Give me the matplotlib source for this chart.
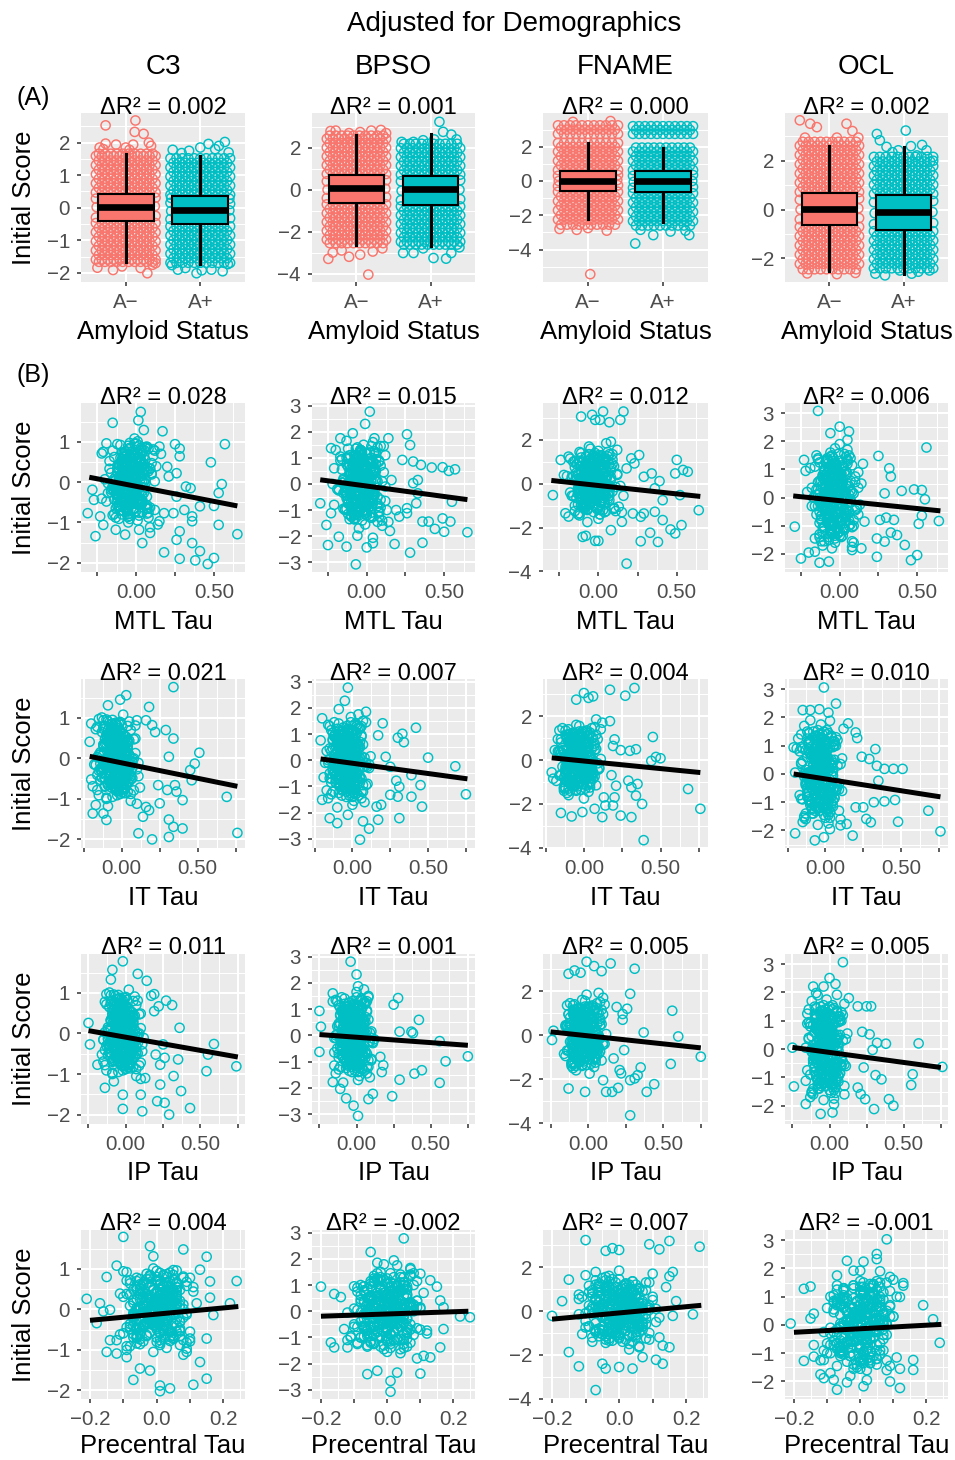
import numpy as np
import matplotlib
matplotlib.use("Agg")
import matplotlib.pyplot as plt
from matplotlib.ticker import FixedLocator, MultipleLocator, NullLocator

plt.rcParams['font.family'] = ['Liberation Sans', 'DejaVu Sans']

# ============================ DATA ============================
tests = ["C3", "BPSO", "FNAME", "OCL"]
tau_labels = ["MTL Tau", "IT Tau", "IP Tau", "Precentral Tau"]
amyloid_levels = ["A\u2212", "A+"]

dr2_amyloid = ["0.002", "0.001", "0.000", "0.002"]
dr2_mtl = ["0.028", "0.015", "0.012", "0.006"]
dr2_it = ["0.021", "0.007", "0.004", "0.010"]
dr2_ip = ["0.011", "0.001", "0.005", "0.005"]
dr2_pc = ["0.004", "-0.002", "0.007", "-0.001"]

# box statistics per amyloid group: [whisker low, q1, median, q3, whisker high]
box_c3 = [[-1.65, -0.42, 0.01, 0.42, 1.66], [-1.73, -0.50, -0.08, 0.35, 1.58]]
box_bpso = [[-2.62, -0.63, 0.06, 0.69, 2.60], [-2.68, -0.74, 0.01, 0.66, 2.64]]
box_fname = [[-2.24, -0.57, 0.02, 0.58, 2.20], [-2.38, -0.66, 0.00, 0.58, 1.95]]
box_ocl = [[-2.51, -0.65, 0.01, 0.66, 2.62], [-2.66, -0.83, -0.11, 0.58, 2.58]]

# jittered individual scores. Dense bands are listed as score levels, each
# holding one row of jittered subjects (horizontal offsets JIT_A / JIT_B).
JIT_A = [-0.40, -0.32, -0.24, -0.16, -0.08, 0.00, 0.08, 0.16, 0.24, 0.32, 0.40]
JIT_B = [-0.36, -0.28, -0.20, -0.12, -0.04, 0.04, 0.12, 0.20, 0.28, 0.36]

c3_neg_lv_a = [0.47, 0.75, 1.03, 1.31, 1.59, -0.47, -0.75, -1.03, -1.31, -1.59]
c3_neg_lv_b = [0.61, 0.89, 1.17, 1.45, 1.66, -0.61, -0.89, -1.17, -1.45, -1.66]
c3_neg_dx = [-0.40,0.40,-0.39,0.39,-0.40,0.40, -0.27,0.13,0.12,0.24,0.31,-0.27,-0.13,0.10,0.34,-0.35,
 0.00,-0.30,0.05, -0.38,-0.17,0.29,0.36,-0.05,0.20,0.40]
c3_neg_y = [-0.30,-0.25,0.02,0.05,0.28,0.31, 2.53,2.68,2.33,2.27,2.00,1.97,1.94,1.94,1.90,1.85,
 1.85,1.80,1.78, -1.84,-1.91,-2.01,-1.75,-1.80,-1.85,-1.70]

c3_pos_lv_a = [0.40, 0.68, 0.96, 1.24, 1.52, -0.57, -0.85, -1.13, -1.41, -1.69]
c3_pos_lv_b = [0.54, 0.82, 1.10, 1.38, -0.71, -0.99, -1.27, -1.55]
c3_pos_dx = [-0.40,0.40,-0.39,0.39,-0.40,0.40,-0.39,0.39, 0.33,-0.37,0.11,0.00,0.25,-0.15,0.20,-0.25,
 0.38, -0.05,0.02,-0.38,0.37,-0.20,0.15,0.30,-0.30]
c3_pos_y = [-0.35,-0.32,-0.10,-0.08,0.15,0.12,0.30,0.28, 2.02,1.78,1.96,1.85,1.90,1.75,1.80,1.68,
 1.70, -2.01,-1.92,-1.76,-1.73,-1.85,-1.90,-1.95,-1.90]

bpso_neg_lv_a = [0.75, 1.17, 1.59, 2.01, 2.43, -0.70, -1.12, -1.54, -1.96, -2.38]
bpso_neg_lv_b = [0.96, 1.38, 1.80, 2.22, 2.58, -0.91, -1.33, -1.75, -2.17, -2.55]
bpso_neg_dx = [-0.40,0.40,-0.39,0.39,-0.40,0.40, -0.35,-0.28,0.05,0.20,0.33,0.40,-0.10,
 -0.38,-0.32,-0.10,0.05,0.22,0.35,-0.20,0.16]
bpso_neg_y = [-0.40,-0.35,0.00,0.05,0.40,0.45, 2.80,2.82,2.75,2.82,2.85,2.70,2.70,
 -3.30,-3.00,-3.20,-3.10,-2.95,-2.80,-2.90,-4.05]

bpso_pos_lv_a = [0.72, 1.14, 1.56, 1.98, -0.80, -1.22, -1.64, -2.06, -2.48]
bpso_pos_lv_b = [0.93, 1.35, 1.77, 2.19, -1.01, -1.43, -1.85, -2.27, -2.62]
bpso_pos_dx = [-0.40,0.40,-0.39,0.39,-0.40,0.40, 0.12,0.17,0.28,-0.39,-0.23,-0.10,0.05,0.35,
 -0.37,-0.23,0.04,0.21,0.28,0.39,-0.10]
bpso_pos_y = [-0.50,-0.45,-0.05,0.00,0.40,0.45, 3.24,2.76,2.63,2.28,2.28,2.36,2.40,2.40,
 -3.02,-3.02,-3.26,-3.29,-3.02,-2.75,-2.80]

fname_neg_lv_a = [0.64, 1.18, 1.72, 2.22, 2.75, 3.25, -0.63, -1.17, -1.71, -2.25]
fname_neg_lv_b = [0.91, 1.45, 1.99, 3.00, -0.90, -1.44, -1.98, -2.55]
fname_neg_dx = [-0.40,0.40,-0.39,0.39,-0.40,0.40, 0.03,0.30,-0.20,-0.38,0.25,0.00,-0.15]
fname_neg_y = [-0.30,-0.25,0.00,0.05,0.30,0.35, -5.44,3.50,3.45,-2.80,-2.90,-2.75,-2.85]

fname_pos_lv_a = [0.64, 1.18, 1.72, 2.75, 3.20, -0.72, -1.26, -1.80, -2.34]
fname_pos_lv_b = [0.91, 1.45, 1.95, 2.98, -0.99, -1.53, -2.07, -2.60]
fname_pos_dx = [-0.40,0.40,-0.39,0.39,-0.40,0.40, -0.37,-0.13,0.35,0.30,-0.30,0.10]
fname_pos_y = [-0.40,-0.35,-0.05,0.00,0.30,0.35, -3.65,-3.16,-3.16,-2.90,-2.85,-2.95]

ocl_neg_lv_a = [0.72, 1.10, 1.48, 1.86, 2.24, 2.62, -0.71, -1.09, -1.47, -1.85, -2.23]
ocl_neg_lv_b = [0.91, 1.29, 1.67, 2.05, 2.43, 2.78, -0.90, -1.28, -1.66, -2.04, -2.45]
ocl_neg_dx = [-0.40,0.40,-0.39,0.39,-0.40,0.40, -0.40,-0.26,-0.17,0.23,0.31,0.39,-0.33,0.10,
 -0.30,0.10,0.35]
ocl_neg_y = [-0.40,-0.35,0.00,0.05,0.40,0.45, 3.66,3.52,3.38,3.52,3.22,2.95,2.95,2.95,
 -2.62,-2.65,-2.60]

ocl_pos_lv_a = [0.64, 1.02, 1.40, 1.78, 2.16, -0.89, -1.27, -1.65, -2.03, -2.41]
ocl_pos_lv_b = [0.83, 1.21, 1.59, 1.97, -1.08, -1.46, -1.84, -2.22]
ocl_pos_dx = [-0.40,0.40,-0.39,0.39,-0.40,0.40, 0.03,-0.36,-0.32,-0.23,-0.07,0.31,0.40,0.18,0.10,
 -0.15,0.25, -0.38,-0.25,0.11,0.20,-0.05,0.35]
ocl_pos_y = [-0.60,-0.55,-0.15,-0.10,0.30,0.35, 3.24,3.10,2.84,2.57,2.43,2.43,2.00,2.22,2.60,
 2.35,2.65, -2.63,-2.70,-2.63,-2.55,-2.50,-2.50]

# ---- tau scatter data: central mass of subjects (tau by region, score by test) ----
mtl_core_x = [-0.08,0.03,-0.15,-0.02,0.09,-0.11,-0.05,0.12,-0.18,0.00,-0.07,0.05,-0.13,-0.03,0.14,-0.09,
 0.01,-0.20,0.07,-0.06,-0.12,0.04,-0.01,-0.16,0.10,-0.04,-0.10,0.06,-0.14,0.02,-0.07,-0.22,0.11,-0.03,
 -0.09,0.08,-0.12,0.00,-0.05,0.15,-0.17,-0.02,0.04,-0.10,-0.06,0.13,-0.14,0.01,-0.08,0.06,-0.19,-0.04,
 0.09,-0.11,-0.01,0.03,-0.15,-0.06,0.12,-0.09,0.00,-0.13,0.07,-0.03,-0.21,0.05,-0.08,-0.12,0.10,-0.05,
 0.02,-0.16,-0.07,0.08,-0.10,-0.02,0.04,-0.14,0.16,-0.04,
 -0.06,0.01,-0.11,-0.03,0.05,-0.08,-0.01,0.08,-0.13,-0.04,0.02,-0.09,-0.05,0.06,-0.12,0.00,-0.07,0.03,-0.15,-0.02,
 0.09,-0.06,-0.10,0.04,-0.03,-0.14,0.01,-0.08,0.07,-0.05,-0.11,0.02,-0.01,-0.09,0.05,-0.17,-0.04,0.10,-0.07,0.00,
 -0.12,0.03,-0.06,-0.02,0.06,-0.10,-0.05,0.01,-0.13,0.04,-0.08,-0.03,0.08,-0.11,-0.01,0.02,-0.07,-0.15,0.05,-0.04,
 0.00,-0.09,0.03,-0.06,-0.12,0.07,-0.02,-0.08,0.01,-0.16,0.04,-0.05,-0.10,0.06,-0.03,0.11,-0.07,-0.01,-0.13,0.02,
 -0.06,0.05,-0.09,-0.04,0.00,-0.11,0.03,-0.02,-0.18,0.08,-0.07,0.01,-0.12,0.04,-0.05,-0.08,0.06,-0.03,-0.10,0.02,
 -0.01,-0.14,0.05,-0.06,0.09,-0.09,-0.02,0.03,-0.11,-0.04,0.12,-0.07,0.00,-0.13,0.04,-0.05,-0.08,0.01,-0.03,0.07,
 -0.05,-0.02,-0.08,0.00,-0.04,-0.10,0.02,-0.06,-0.03,-0.12,0.04,-0.07,-0.01,-0.05,-0.09,0.01,-0.03,-0.13,-0.06,0.03,
 -0.02,-0.08,-0.04,0.05,-0.11,-0.01,-0.07,0.00,-0.05,-0.09,0.02,-0.03,-0.12,-0.06,0.04,-0.02,-0.08,-0.04,0.01,-0.10,
 -0.05,0.06,-0.03,-0.07,-0.01,-0.11,0.03,-0.06,-0.02,-0.09,0.00,-0.04,-0.13,0.02,-0.07,-0.03,0.05,-0.08,-0.05,-0.01,
 -0.10,0.01,-0.06,-0.02,-0.14,0.03,-0.04,-0.08,0.00,-0.05,-0.11,0.04,-0.03,-0.07,-0.01,-0.09,0.02,-0.06,-0.12,0.00,
 -0.04,-0.08,0.05,-0.02,-0.10,-0.05,0.01,-0.07,-0.03,0.07,-0.09,-0.01,-0.06,0.03,-0.12,-0.04,0.00,-0.08,-0.02,-0.05]
it_core_x = [-0.05,0.02,-0.12,0.07,-0.08,-0.15,0.00,-0.03,0.10,-0.10,-0.06,0.04,-0.18,-0.01,0.06,-0.09,
 -0.13,0.03,-0.04,0.12,-0.07,-0.20,0.01,-0.11,0.08,-0.02,-0.14,0.05,-0.06,-0.09,0.00,-0.16,0.09,-0.03,
 -0.07,0.03,-0.12,0.11,-0.05,-0.10,-0.01,0.06,-0.17,-0.04,0.02,-0.08,0.08,-0.13,-0.02,0.04,-0.11,-0.06,
 0.10,-0.15,0.01,-0.07,-0.03,0.05,-0.19,-0.09,0.07,-0.01,-0.12,0.03,-0.05,-0.14,0.09,-0.08,0.00,-0.10,
 0.05,-0.04,-0.16,0.02,-0.06,0.11,-0.11,-0.02,0.06,-0.08,
 -0.04,0.01,-0.09,-0.02,0.04,-0.07,-0.12,0.00,-0.05,0.06,-0.10,-0.03,0.02,-0.08,-0.14,0.03,-0.06,-0.01,0.07,-0.11,
 -0.04,0.00,-0.09,0.05,-0.13,-0.02,-0.07,0.02,-0.16,-0.05,0.04,-0.10,-0.01,-0.06,0.08,-0.12,-0.03,0.01,-0.08,-0.15,
 0.03,-0.05,-0.11,0.00,-0.02,0.06,-0.09,-0.04,-0.13,0.02,-0.07,0.05,-0.01,-0.10,-0.06,0.01,-0.14,0.04,-0.03,-0.08,
 0.00,-0.12,0.07,-0.05,-0.02,-0.09,0.03,-0.17,-0.06,0.02,-0.11,-0.01,0.05,-0.07,-0.04,-0.13,0.01,-0.08,0.09,-0.03,
 -0.10,0.02,-0.05,-0.15,0.04,-0.02,-0.07,0.00,-0.12,0.06,-0.04,-0.09,0.03,-0.01,-0.14,0.01,-0.06,0.05,-0.11,-0.03,
 0.02,-0.08,-0.05,0.07,-0.12,-0.02,0.00,-0.10,0.04,-0.06,-0.16,0.03,-0.04,-0.09,0.01,-0.01,-0.13,0.06,-0.07,-0.03,
 -0.04,-0.01,-0.07,0.01,-0.05,-0.09,0.02,-0.06,-0.03,-0.11,0.03,-0.07,-0.02,-0.04,-0.08,0.00,-0.03,-0.12,-0.05,0.02,
 -0.01,-0.07,-0.04,0.04,-0.10,-0.02,-0.06,0.01,-0.05,-0.08,0.01,-0.03,-0.11,-0.06,0.03,-0.02,-0.07,-0.04,0.00,-0.09,
 -0.05,0.05,-0.03,-0.06,-0.01,-0.10,0.02,-0.05,-0.02,-0.08,0.00,-0.04,-0.12,0.01,-0.06,-0.03,0.04,-0.07,-0.04,-0.01,
 -0.09,0.00,-0.05,-0.02,-0.13,0.02,-0.03,-0.07,0.01,-0.04,-0.10,0.03,-0.02,-0.06,0.00,-0.08,0.01,-0.05,-0.11,-0.01,
 -0.03,-0.07,0.04,-0.02,-0.09,-0.04,0.00,-0.06,-0.03,0.05,-0.08,-0.01,-0.05,0.02,-0.11,-0.04,0.01,-0.07,-0.02,-0.05]
ip_core_x = [-0.03,0.04,-0.10,0.08,-0.06,-0.13,0.01,-0.02,0.11,-0.08,-0.05,0.05,-0.15,0.00,0.07,-0.07,
 -0.11,0.03,-0.04,0.10,-0.06,-0.16,0.02,-0.09,0.09,-0.01,-0.12,0.06,-0.05,-0.08,0.01,-0.14,0.08,-0.02,
 -0.06,0.04,-0.10,0.12,-0.04,-0.09,0.00,0.07,-0.13,-0.03,0.03,-0.07,0.09,-0.11,-0.01,0.05,-0.10,-0.05,
 0.10,-0.12,0.02,-0.06,-0.02,0.06,-0.15,-0.08,0.08,0.00,-0.10,0.04,-0.04,-0.12,0.10,-0.07,0.01,-0.09,
 0.06,-0.03,-0.14,0.03,-0.05,0.11,-0.09,-0.01,0.07,-0.07,
 -0.03,0.02,-0.07,-0.01,0.05,-0.05,-0.10,0.01,-0.04,0.07,-0.08,-0.02,0.03,-0.06,-0.12,0.04,-0.05,0.00,0.08,-0.09,
 -0.03,0.01,-0.07,0.06,-0.11,-0.01,-0.06,0.03,-0.14,-0.04,0.05,-0.08,0.00,-0.05,0.09,-0.10,-0.02,0.02,-0.07,-0.13,
 0.04,-0.04,-0.09,0.01,-0.01,0.07,-0.08,-0.03,-0.11,0.03,-0.06,0.06,0.00,-0.09,-0.05,0.02,-0.12,0.05,-0.02,-0.07,
 0.01,-0.10,0.08,-0.04,-0.01,-0.08,0.04,-0.15,-0.05,0.03,-0.09,0.00,0.06,-0.06,-0.03,-0.11,0.02,-0.07,0.10,-0.02,
 -0.08,0.03,-0.04,-0.13,0.05,-0.01,-0.06,0.01,-0.10,0.07,-0.03,-0.08,0.04,0.00,-0.12,0.02,-0.05,0.06,-0.09,-0.02,
 0.03,-0.07,-0.04,0.08,-0.10,-0.01,0.01,-0.09,0.05,-0.05,-0.14,0.04,-0.03,-0.08,0.02,0.00,-0.11,0.07,-0.06,-0.02,
 -0.03,0.00,-0.06,0.02,-0.04,-0.08,0.03,-0.05,-0.02,-0.10,0.04,-0.06,-0.01,-0.03,-0.07,0.01,-0.02,-0.11,-0.04,0.03,
 0.00,-0.06,-0.03,0.05,-0.09,-0.01,-0.05,0.02,-0.04,-0.07,0.02,-0.02,-0.10,-0.05,0.04,-0.01,-0.06,-0.03,0.01,-0.08,
 -0.04,0.06,-0.02,-0.05,0.00,-0.09,0.03,-0.04,-0.01,-0.07,0.01,-0.03,-0.11,0.02,-0.05,-0.02,0.05,-0.06,-0.03,0.00,
 -0.08,0.01,-0.04,-0.01,-0.10,0.03,-0.02,-0.06,0.02,-0.03,-0.09,0.04,-0.01,-0.05,0.01,-0.07,0.02,-0.04,-0.10,0.00,
 -0.02,-0.06,0.05,-0.01,-0.08,-0.03,0.01,-0.05,-0.02,0.06,-0.07,0.00,-0.04,0.03,-0.10,-0.03,0.02,-0.06,-0.01,-0.04]
pc_core_x = [0.01,-0.06,0.08,-0.02,0.04,-0.09,0.11,-0.04,0.00,0.06,-0.11,0.03,-0.07,0.09,-0.01,0.05,
 -0.08,0.02,-0.03,0.10,-0.05,0.07,-0.12,0.01,0.04,-0.06,0.12,-0.02,0.06,-0.09,0.03,-0.04,0.08,-0.07,
 0.00,0.05,-0.10,0.02,-0.03,0.09,-0.05,0.07,-0.08,0.01,0.04,-0.11,0.10,-0.01,0.06,-0.06,0.03,-0.04,
 0.08,-0.08,0.00,0.05,-0.02,0.11,-0.07,0.02,-0.05,0.07,-0.10,0.03,-0.03,0.09,-0.06,0.01,0.05,-0.09,
 0.04,-0.01,0.07,-0.12,0.02,-0.04,0.06,-0.07,0.00,0.10,
 0.00,-0.04,0.05,-0.01,0.03,-0.06,0.08,-0.02,0.01,0.04,-0.08,0.02,-0.05,0.06,0.00,0.03,-0.06,0.01,-0.02,0.07,
 -0.03,0.05,-0.09,0.00,0.02,-0.04,0.09,-0.01,0.04,-0.07,0.02,-0.03,0.06,-0.05,0.01,0.03,-0.08,0.00,-0.02,0.07,
 -0.04,0.05,-0.06,0.02,0.03,-0.09,0.08,0.00,0.04,-0.05,0.01,-0.03,0.06,-0.07,0.00,0.04,-0.01,0.09,-0.05,0.02,
 -0.04,0.05,-0.08,0.01,-0.02,0.07,-0.05,0.00,0.03,-0.07,0.03,-0.01,0.06,-0.10,0.01,-0.03,0.04,-0.06,0.00,0.08,
 -0.02,0.02,-0.05,0.05,-0.01,-0.07,0.03,0.06,-0.03,0.01,-0.09,0.04,0.00,-0.04,0.07,-0.02,0.02,-0.06,0.05,-0.01,
 0.03,-0.08,0.01,0.06,-0.03,0.00,-0.05,0.04,-0.02,0.09,-0.06,0.02,-0.01,0.05,-0.04,0.01,0.07,-0.07,0.03,-0.02,
 0.00,-0.03,0.04,-0.01,0.02,-0.05,0.06,-0.02,0.01,0.03,-0.06,0.02,-0.04,0.05,0.00,0.02,-0.05,0.01,-0.02,0.06,
 -0.03,0.04,-0.07,0.00,0.02,-0.03,0.07,-0.01,0.03,-0.06,0.01,-0.02,0.05,-0.04,0.00,0.03,-0.06,0.01,-0.01,0.05,
 -0.03,0.04,-0.05,0.02,0.02,-0.07,0.06,0.00,0.03,-0.04,0.01,-0.02,0.05,-0.06,0.00,0.03,-0.01,0.08,-0.04,0.02,
 -0.03,0.04,-0.06,0.01,-0.01,0.06,-0.04,0.00,0.02,-0.05,0.03,-0.01,0.05,-0.08,0.01,-0.02,0.03,-0.05,0.00,0.07,
 -0.02,0.02,-0.04,0.04,-0.01,-0.06,0.03,0.05,-0.03,0.01,-0.07,0.03,0.00,-0.03,0.06,-0.02,0.02,-0.05,0.04,-0.01]

c3_core_y = [0.12,-0.45,0.78,-0.08,0.33,-0.91,0.55,0.02,-0.27,0.96,-0.62,0.21,-0.15,0.68,-1.05,0.41,
 -0.36,0.07,0.88,-0.72,0.25,-0.52,1.08,-0.19,0.47,-0.84,0.15,-0.03,0.62,-1.18,0.36,-0.41,0.81,-0.23,
 0.05,-0.66,0.94,-0.11,0.29,-0.97,0.52,-0.31,0.72,0.18,-0.57,0.39,-0.79,1.01,-0.06,0.26,-0.48,0.66,
 -1.12,0.09,-0.33,0.85,-0.18,0.44,-0.69,0.58,-0.01,-0.88,0.31,-0.39,0.75,-0.13,0.49,-0.59,0.19,-1.00,
 0.91,-0.25,0.03,-0.76,0.60,-0.44,0.37,-0.09,0.70,-0.55,
 0.25,0.61,-0.33,-0.05,0.44,-0.71,0.12,0.83,-0.18,-0.52,0.37,0.03,-0.86,0.55,-0.27,0.19,0.70,-0.41,-0.10,0.48,
 -0.63,0.30,0.92,-0.22,-0.47,0.08,0.58,-0.35,-0.78,0.16,0.41,-0.14,0.67,-0.57,0.00,0.33,-0.91,0.22,0.76,-0.30,
 -0.06,0.50,-0.68,0.14,0.87,-0.44,-0.20,0.39,0.06,-0.74,0.62,-0.37,0.27,-0.12,0.95,-0.55,0.10,-0.82,0.45,0.18,
 -0.25,0.73,-0.49,0.04,0.35,-0.66,0.53,-0.16,-0.95,0.23,0.80,-0.39,0.09,-0.59,0.42,0.65,-0.08,-0.29,0.13,-0.76,
 0.57,0.31,-0.45,0.97,-0.21,-0.61,0.20,0.46,-0.03,-0.88,0.38,0.71,-0.34,0.02,-0.53,0.28,0.85,-0.13,-0.70,0.49,
 0.11,-0.43,0.64,-0.24,0.34,-0.80,0.07,0.56,-0.58,-0.09,0.78,-0.31,0.17,-0.65,0.43,0.90,-0.47,-0.17,0.26,-0.36,
 0.18,-0.35,0.52,-0.12,0.05,-0.61,0.33,-0.22,0.71,-0.04,-0.48,0.26,0.09,-0.73,0.44,-0.17,0.62,-0.29,0.00,-0.55,
 0.38,0.13,-0.41,0.80,-0.08,-0.66,0.21,0.47,-0.25,0.03,-0.83,0.58,-0.14,0.30,-0.44,0.67,-0.02,-0.58,0.16,0.42,
 -0.31,0.07,0.75,-0.51,0.24,-0.19,0.55,-0.70,0.11,-0.37,0.35,0.85,-0.10,-0.46,0.19,0.61,-0.27,0.01,-0.79,0.40,
 -0.06,0.28,-0.63,0.50,-0.21,0.14,-0.39,0.73,-0.53,0.06,0.45,-0.33,-0.01,0.64,-0.76,0.23,-0.15,0.37,-0.49,0.10,
 0.82,-0.24,0.31,-0.68,0.04,0.56,-0.43,0.17,-0.09,-0.57,0.49,-0.30,0.69,0.08,-0.40,0.27,-0.72,0.39,-0.18,0.15]
bpso_core_y = [0.90,-1.30,0.20,1.50,-0.60,0.05,-1.70,1.10,-0.25,0.65,-0.95,1.75,-0.10,0.40,-1.45,0.85,
 -0.40,1.30,-0.75,0.15,-1.15,1.60,-0.05,0.55,-1.60,0.30,-0.85,1.20,-0.30,0.75,-1.05,0.00,1.45,-0.55,
 0.25,-1.25,0.95,-0.15,0.60,-1.80,1.05,-0.70,0.35,-0.45,1.40,-1.00,0.10,0.80,-1.35,0.50,-0.20,1.25,
 -0.90,0.45,-1.55,1.00,-0.35,0.70,-0.65,0.20,-1.20,1.65,-0.50,0.30,-0.80,1.15,-0.10,0.65,-1.40,0.90,
 -0.60,0.05,1.35,-1.10,0.40,-0.30,0.85,-0.95,0.15,-0.70,
 0.35,-0.90,1.10,-0.20,0.60,-1.35,0.05,0.85,-0.55,1.30,-0.05,-1.10,0.45,0.95,-0.70,0.15,-0.30,1.45,-0.95,0.25,
 0.70,-0.45,-1.25,0.50,1.05,-0.10,-0.65,0.30,-1.45,0.80,0.00,1.20,-0.80,0.40,-0.25,0.90,-1.00,0.10,0.65,-0.50,
 1.35,-0.15,-0.85,0.55,0.20,-1.20,1.00,-0.35,0.75,-0.60,-0.05,1.25,-1.05,0.35,-0.40,0.85,-1.30,0.15,0.50,-0.75,
 1.15,-0.20,0.60,-0.90,0.05,1.40,-0.55,-1.15,0.30,0.95,-0.30,0.70,-0.70,0.10,-1.40,0.45,1.10,-0.15,-0.95,0.25,
 0.80,-0.45,0.00,1.30,-0.80,0.40,-1.10,0.60,-0.20,0.90,-0.60,0.15,1.05,-1.25,0.35,-0.35,0.75,-0.05,-0.85,1.20,
 0.20,-1.00,0.55,-0.25,1.45,-0.65,0.05,0.85,-1.35,0.40,-0.10,0.65,-0.75,1.00,-0.40,0.30,-1.20,0.95,-0.50,0.10,
 0.25,-0.55,0.80,-0.15,0.05,-0.95,0.50,-0.35,1.10,-0.05,-0.75,0.40,0.15,-1.10,0.65,-0.25,0.95,-0.45,0.00,-0.85,
 0.55,0.20,-0.60,1.25,-0.10,-1.00,0.30,0.70,-0.40,0.05,-1.25,0.90,-0.20,0.45,-0.65,1.00,-0.05,-0.90,0.25,0.60,
 -0.50,0.10,1.15,-0.80,0.35,-0.30,0.85,-1.05,0.15,-0.55,0.50,1.30,-0.15,-0.70,0.30,0.95,-0.40,0.00,-1.20,0.60,
 -0.10,0.40,-0.95,0.75,-0.30,0.20,-0.60,1.10,-0.80,0.10,0.70,-0.50,-0.05,1.00,-1.15,0.35,-0.25,0.55,-0.75,0.15,
 1.20,-0.35,0.45,-1.05,0.05,0.85,-0.65,0.25,-0.15,-0.85,0.75,-0.45,1.05,0.10,-0.60,0.40,-1.10,0.60,-0.25,0.20]
fname_core_y = [-0.20,1.10,-1.25,0.45,0.90,-0.70,0.10,1.55,-0.40,-1.60,0.65,0.25,-0.95,1.30,-0.10,0.75,
 -1.40,0.35,-0.55,1.70,0.00,-0.85,0.55,1.00,-1.15,0.20,-0.30,1.45,-0.65,0.85,-1.75,0.40,-0.15,1.20,
 -1.00,0.60,-0.45,0.05,1.60,-1.30,0.30,-0.60,0.95,-0.25,1.35,-1.05,0.50,-0.80,0.15,1.25,-1.50,0.70,
 -0.35,0.80,-0.05,-1.20,1.05,-0.50,0.45,-0.90,1.50,0.10,-0.75,0.60,-1.35,0.25,0.95,-0.20,-1.10,1.15,
 -0.40,0.35,-0.70,0.75,-0.10,1.40,-0.95,0.20,-0.55,0.65,
 0.55,-0.35,1.20,-1.00,0.15,0.85,-0.60,0.30,-1.40,1.00,-0.10,0.65,-0.85,0.40,1.45,-0.25,-1.15,0.20,0.75,-0.50,
 1.10,-0.05,-0.70,0.50,-1.30,0.90,0.05,-0.40,1.35,-0.90,0.25,0.60,-0.20,-1.05,1.15,-0.55,0.10,0.80,-0.75,0.35,
 -1.45,0.70,-0.15,1.25,-0.45,0.00,0.95,-1.20,0.45,-0.30,0.85,-0.80,0.20,1.40,-0.65,-0.05,0.55,-1.00,0.30,1.05,
 -0.35,-0.95,0.65,0.10,-1.35,0.90,-0.20,0.40,1.20,-0.55,0.00,-0.70,1.00,-0.10,0.50,-1.25,0.75,0.15,-0.45,1.30,
 -0.85,0.35,-0.25,0.95,-1.10,0.60,0.05,-0.60,1.15,-0.15,0.25,-1.40,0.80,-0.35,0.45,-0.90,1.05,0.00,-0.50,0.70,
 -1.15,0.20,0.55,-0.75,1.35,-0.05,-0.30,0.85,-1.00,0.15,0.40,-0.65,1.10,-0.20,-1.30,0.60,0.10,-0.85,0.95,-0.40,
 -0.15,0.35,-0.55,0.85,0.05,-0.30,0.60,-0.90,0.20,-0.05,1.15,-0.65,0.40,-0.20,-1.10,0.70,0.10,-0.45,0.95,-0.75,
 0.25,-0.10,0.50,-1.25,0.80,-0.35,0.00,1.30,-0.60,0.15,-0.85,0.45,-0.25,1.05,-0.50,0.30,-1.00,0.65,-0.15,0.05,
 0.90,-0.70,0.20,-0.40,1.20,-0.95,0.35,-0.05,0.55,-1.15,0.10,0.75,-0.30,-0.80,0.40,1.00,-0.55,0.25,-0.20,0.60,
 -1.05,0.05,0.85,-0.45,0.15,-0.65,1.10,-0.10,0.45,-0.90,0.30,-0.35,0.70,-1.20,0.00,0.50,-0.75,0.20,0.95,-0.25,
 -0.60,1.25,-0.05,0.35,-0.95,0.65,0.10,-0.40,0.80,-0.15,0.55,-1.10,0.25,-0.50,1.05,-0.30,0.40,-0.70,0.15,-0.85]
ocl_core_y = [0.60,-1.10,1.50,-0.30,0.15,-1.70,1.00,-0.60,0.35,1.90,-0.90,-0.05,1.25,-1.45,0.50,-0.20,
 0.85,-1.95,0.25,1.60,-0.75,0.05,-1.25,1.10,-0.45,0.70,-1.55,0.40,1.35,-0.10,-0.95,0.95,-0.35,1.75,
 -1.30,0.20,-0.65,0.55,-1.80,1.20,0.00,-0.50,0.80,-1.05,1.45,-0.25,0.30,-1.40,0.65,-0.80,1.05,-0.15,
 -1.60,0.45,1.55,-0.70,0.10,-1.15,0.90,-0.40,1.30,-0.90,0.60,-1.35,0.20,1.70,-0.55,-0.15,0.75,-1.00,
 1.15,-0.30,0.40,-1.75,0.95,-0.60,0.05,1.40,-0.85,0.30,
 -0.40,0.85,-1.20,0.30,1.30,-0.75,0.05,-1.55,0.60,1.05,-0.25,0.40,-0.95,1.50,-0.10,-1.35,0.75,0.20,-0.60,1.15,
 -1.00,0.50,-0.30,0.95,-1.60,0.10,0.65,-0.80,1.40,-0.15,0.35,-1.10,0.80,-0.45,1.20,0.00,-0.70,0.55,-1.40,0.90,
 -0.20,1.55,-0.90,0.25,-0.50,1.00,-1.25,0.45,0.15,-0.65,1.35,-0.05,-1.05,0.70,-0.35,1.10,-1.50,0.30,0.85,-0.85,
 0.10,1.25,-0.55,-1.20,0.60,-0.15,0.95,-0.75,0.40,-1.45,1.45,-0.25,0.20,-1.00,0.75,-0.40,1.05,-0.10,-1.30,0.50,
 0.05,-0.60,1.30,-0.90,0.35,0.80,-1.15,0.15,-0.30,1.15,-0.70,0.65,-1.55,0.45,0.00,1.40,-0.50,-0.95,0.90,0.25,
 -1.25,0.55,-0.20,1.00,-0.80,0.10,1.20,-0.45,-1.05,0.70,0.35,-0.65,0.85,-1.40,0.20,1.50,-0.35,-0.85,0.60,-0.05,
 0.30,-0.60,0.90,-0.20,0.05,-1.05,0.55,-0.40,1.20,-0.05,-0.80,0.45,0.15,-1.20,0.70,-0.30,1.05,-0.50,0.00,-0.90,
 0.60,0.20,-0.65,1.35,-0.10,-1.10,0.35,0.80,-0.45,0.05,-1.35,0.95,-0.25,0.50,-0.70,1.10,-0.05,-0.95,0.25,0.65,
 -0.55,0.10,1.25,-0.85,0.40,-0.35,0.90,-1.15,0.15,-0.60,0.55,1.40,-0.15,-0.75,0.30,1.00,-0.45,0.00,-1.30,0.65,
 -0.10,0.45,-1.00,0.80,-0.30,0.20,-0.65,1.20,-0.85,0.10,0.75,-0.55,-0.05,1.05,-1.25,0.35,-0.25,0.60,-0.80,0.15,
 1.30,-0.40,0.50,-1.10,0.05,0.90,-0.70,0.25,-0.15,-0.95,0.80,-0.50,1.15,0.10,-0.65,0.45,-1.20,0.65,-0.25,0.20]

# ---- tau scatter data: spread-out subjects per panel (tau, score) ----
mtl_c3_pts = [(-0.31,-0.77),(-0.26,-1.34),(-0.28,-0.19),(-0.27,-0.44),(-0.23,-0.85),(-0.21,-1.06),
 (-0.13,-1.18),(-0.07,-1.30),(-0.19,0.96),(-0.22,0.71),(-0.15,1.47),(0.015,1.53),(0.03,1.74),(0.05,1.29),
 (0.17,1.26),(0.15,0.88),(0.25,0.94),(0.28,0.83),(0.28,0.64),(0.57,0.94),(0.48,0.49),(0.55,-0.05),
 (0.53,-0.27),(0.50,-0.59),(0.41,-0.60),(0.53,-1.06),(0.65,-1.29),(0.36,-1.51),(0.41,-1.71),(0.38,-1.94),
 (0.46,-2.03),(0.50,-1.88),(0.28,-1.90),(0.26,-1.43),(0.28,-1.22),(0.18,-1.74),(0.04,-1.51),(0.09,-1.26),
 (0.36,-0.85),(0.36,-0.97),(0.31,-0.69),(0.24,-0.77),(0.18,-0.77),(0.26,-0.36),(0.32,-0.11),(0.35,-0.15),
 (0.26,0.22),(0.21,0.14),(0.20,0.38)]
mtl_bpso_pts = [(0.02,2.77),(-0.09,1.94),(-0.01,2.30),(0.26,1.90),(0.28,1.49),(0.14,1.75),(0.42,0.63),
 (0.49,0.64),(0.35,0.73),(0.30,0.86),(0.23,0.92),(0.53,0.50),(0.57,0.56),(0.55,-0.68),(0.49,-1.32),
 (0.54,-1.44),(0.50,-1.83),(0.44,-1.72),(0.40,-1.44),(0.36,-1.44),(0.65,-1.85),(0.36,-2.25),(0.28,-2.63),
 (0.18,-2.30),(-0.07,-3.08),(0.00,-2.43),(0.04,-2.27),(-0.06,-1.98),(0.04,-2.06),(-0.25,-2.34),
 (-0.18,-2.02),(-0.13,-2.40),(-0.30,-0.74),(-0.26,-1.57),(-0.23,-1.12),(-0.23,1.37),(-0.17,1.75),
 (-0.21,0.60),(0.26,-1.12),(0.32,-0.74),(0.33,0.15),(0.30,0.03),(0.33,-0.36),(0.19,-1.00),(0.21,-1.25),
 (0.26,-0.93)]
mtl_fname_pts = [(-0.04,3.15),(0.03,3.30),(-0.02,2.92),(0.01,2.92),(0.07,2.81),(0.16,3.30),(0.14,2.92),
 (-0.11,3.07),(0.08,1.92),(0.05,1.85),(0.21,1.16),(0.23,0.93),(0.26,1.31),(0.18,0.70),(0.29,0.32),
 (0.34,0.47),(0.39,0.12),(0.49,0.47),(0.50,1.09),(0.54,0.63),(0.57,0.55),(0.52,-0.52),(0.64,-1.21),
 (0.41,-0.75),(0.36,-0.21),(0.29,-1.36),(0.22,-1.36),(0.27,-1.51),(0.36,-1.28),(0.38,-2.66),(0.33,-2.24),
 (0.41,-1.66),(0.46,-2.09),(0.49,-2.27),(0.53,-1.89),(0.27,-2.63),(0.18,-3.65),(-0.10,-2.43),(-0.08,-2.38),
 (-0.02,-2.61),(0.00,-2.61),(0.08,-2.12),(0.15,-1.74),(-0.29,-0.52),(-0.24,1.09),(-0.19,1.24)]
mtl_ocl_pts = [(-0.14,3.08),(0.00,2.52),(-0.06,2.29),(0.06,2.35),(0.05,2.05),(-0.29,-1.03),(-0.25,-2.16),
 (-0.23,1.34),(-0.16,-1.92),(-0.13,-2.31),(-0.07,-2.27),(0.25,1.48),(0.32,1.04),(0.33,0.75),(0.29,0.15),
 (0.40,0.24),(0.53,0.27),(0.55,-0.06),(0.56,1.78),(0.48,0.29),(0.64,-0.83),(0.53,-0.64),(0.51,-0.93),
 (0.37,-1.33),(0.42,-1.68),(0.33,-1.24),(0.29,-1.56),(0.24,-2.10),(0.50,-2.04),(0.46,-2.22),(0.24,-1.45),
 (0.26,-0.79),(0.30,-0.71),(0.35,-0.79),(0.14,-1.80),(0.08,-1.86)]

it_c3_pts = [(0.34,1.76),(0.03,1.56),(-0.01,1.45),(-0.09,1.31),(0.18,1.27),(0.10,0.94),(0.16,0.94),
 (0.20,0.82),(0.29,0.70),(0.34,0.49),(0.22,0.65),(0.51,0.14),(0.31,0.04),(0.45,-0.29),(0.48,-0.13),
 (0.46,-0.54),(0.69,-0.95),(0.76,-1.84),(0.24,-0.66),(0.30,-0.78),(0.35,-0.66),(0.36,-0.82),(0.40,-1.03),
 (0.25,-1.11),(0.31,-1.51),(0.34,-1.69),(0.40,-1.73),(0.31,-1.94),(0.20,-2.00),(0.11,-1.85),(0.14,-1.44),
 (0.16,-1.20),(0.18,-1.28),(-0.19,-1.36),(-0.12,-1.36),(-0.10,-1.52),(-0.17,-1.15),(-0.21,0.41),
 (-0.20,0.86)]
it_bpso_pts = [(-0.03,2.77),(-0.05,2.27),(-0.09,1.95),(0.09,1.85),(0.20,1.41),(0.17,0.95),(0.30,0.86),
 (0.33,1.01),(0.34,0.69),(0.42,1.24),(0.50,0.10),(0.22,0.13),(0.68,-0.23),(0.75,-1.30),(0.29,-0.78),
 (0.31,-1.01),(0.39,-0.57),(0.39,-1.39),(0.45,-0.95),(0.46,-1.77),(0.31,-2.21),(0.30,-1.39),(0.25,-1.32),
 (0.19,-1.70),(0.16,-1.77),(0.17,-2.27),(0.07,-2.33),(0.11,-2.61),(0.05,-3.03),(-0.03,-2.08),
 (-0.15,-2.21),(-0.10,-2.40),(-0.20,-1.51),(-0.15,-0.69),(-0.21,0.76),(0.25,-0.25)]
it_fname_pts = [(0.00,3.05),(0.03,2.83),(-0.05,2.75),(0.06,2.90),(0.17,3.20),(0.27,2.93),(0.33,3.28),
 (0.08,1.85),(0.17,1.77),(0.20,0.94),(0.19,0.64),(0.24,0.45),(0.30,0.42),(0.34,0.49),(0.45,1.05),
 (0.44,-0.04),(0.47,0.14),(0.50,0.08),(0.68,-1.32),(0.76,-2.22),(0.38,-2.00),(0.34,-1.62),(0.31,-1.24),
 (0.29,-0.94),(0.35,-1.09),(0.31,-2.60),(0.24,-2.53),(0.19,-2.07),(0.13,-1.70),(0.14,-2.07),(0.12,-2.60),
 (0.07,-2.22),(-0.01,-2.37),(-0.08,-2.57),(-0.15,-2.41),(-0.21,-0.56),(0.18,-0.69),(0.21,-1.17),
 (0.20,-1.70),(0.39,-3.65)]
it_ocl_pts = [(-0.01,3.06),(0.07,2.49),(-0.04,2.29),(-0.10,2.26),(-0.15,2.26),(0.02,2.17),(0.03,1.88),
 (0.15,1.79),(0.20,1.47),(0.21,1.27),(0.33,0.88),(0.29,0.53),(0.24,0.61),(0.39,0.18),(0.45,0.18),
 (0.51,0.18),(0.34,0.29),(0.35,-0.24),(0.68,-1.30),(0.76,-2.03),(0.48,-1.69),(0.39,-0.97),(0.46,-0.92),
 (0.32,-1.00),(0.30,-1.71),(0.27,-1.59),(0.25,-1.18),(0.20,-1.18),(0.18,-2.18),(0.14,-1.77),(0.10,-1.82),
 (-0.07,-2.35),(-0.01,-2.24),(-0.20,-2.10),(-0.21,0.94),(-0.16,-0.88)]

ip_c3_pts = [(-0.02,1.78),(-0.09,1.57),(-0.10,1.33),(0.08,1.47),(0.14,1.30),(0.19,0.97),(0.17,0.93),
 (0.27,0.81),(0.31,0.70),(0.22,0.67),(0.36,0.14),(0.19,0.55),(0.59,-0.26),(0.55,-0.52),(0.54,-0.93),
 (0.74,-0.81),(0.35,-0.64),(0.32,-1.05),(0.26,-0.60),(0.25,-0.27),(0.20,-0.52),(0.23,-0.77),(0.37,-1.42),
 (0.43,-1.84),(0.23,-1.26),(0.21,-1.67),(0.26,-1.71),(0.29,-2.00),(0.11,-1.92),(0.10,-1.51),(0.13,-1.10),
 (-0.02,-1.51),(-0.02,-1.86),(-0.14,-1.34),(-0.25,0.26),(-0.24,-0.27),(-0.19,-0.77)]
ip_bpso_pts = [(-0.04,2.81),(0.00,2.32),(0.01,1.87),(-0.25,0.93),(-0.24,0.33),(-0.16,1.29),(0.28,1.42),
 (0.25,1.17),(0.42,0.59),(0.37,0.14),(0.38,0.08),(0.29,0.14),(0.56,-0.22),(0.60,-0.99),(0.75,-0.80),
 (0.44,-1.33),(0.39,-1.46),(0.29,-1.69),(0.24,-2.32),(0.56,-1.81),(0.16,-0.82),(0.18,-1.14),(0.17,-1.40),
 (0.11,-2.23),(0.08,-2.43),(0.01,-3.07),(-0.02,-2.68),(-0.07,-2.40),(-0.11,-2.04),(-0.16,-1.78),
 (-0.25,-0.63)]
ip_fname_pts = [(-0.13,2.79),(-0.09,2.94),(-0.05,2.84),(-0.01,3.34),(0.04,3.14),(0.09,2.91),(0.15,3.26),
 (0.31,3.02),(-0.01,1.84),(0.07,1.92),(0.28,1.88),(0.19,1.28),(0.26,1.20),(0.23,0.96),(0.23,0.70),
 (0.37,0.12),(0.56,1.11),(0.60,-0.06),(0.75,-0.98),(0.55,-1.31),(0.35,-1.47),(0.33,-1.82),(0.31,-1.97),
 (0.28,-2.05),(0.39,-2.58),(0.44,-2.23),(0.28,-3.65),(0.22,-1.74),(0.21,-1.59),(0.17,-1.06),(0.24,-0.68),
 (0.16,-2.58),(0.12,-2.58),(0.10,-2.05),(0.20,-2.40),(-0.02,-2.58),(-0.13,-2.43),(-0.24,-0.22),
 (-0.23,0.20)]
ip_ocl_pts = [(0.09,3.07),(0.00,2.51),(0.04,2.30),(-0.04,2.21),(-0.11,2.21),(0.05,1.92),(-0.09,1.98),
 (0.13,1.80),(0.19,1.51),(0.25,1.51),(0.28,1.51),(0.27,0.52),(0.32,0.22),(0.38,0.19),(0.29,-0.03),
 (0.22,0.61),(0.60,0.20),(0.76,-0.63),(0.56,-0.89),(0.55,-1.27),(0.35,-1.07),(0.31,-0.92),(0.23,-0.65),
 (0.40,-1.77),(0.43,-2.00),(0.30,-2.12),(0.24,-1.77),(0.21,-1.59),(0.19,-1.36),(0.02,-2.24),(-0.06,-2.29),
 (-0.16,-1.94),(-0.25,0.05),(-0.24,-1.32),(-0.16,-1.12)]

pc_c3_pts = [(-0.21,0.26),(-0.17,0.15),(-0.15,0.80),(-0.15,-1.05),(-0.12,-1.09),(-0.14,-0.01),
 (-0.14,-0.76),(-0.10,1.79),(-0.09,0.71),(-0.02,1.56),(-0.01,1.31),(0.08,1.48),(0.15,1.30),(0.13,0.98),
 (0.10,0.78),(0.16,0.69),(0.16,0.29),(0.17,-0.14),(0.24,0.70),(0.22,0.15),(0.15,-0.72),(0.13,-1.30),
 (0.11,-1.86),(0.15,-1.71),(0.09,-1.05),(0.01,-1.88),(0.01,-2.02),(0.04,-1.95),(-0.07,-1.74),
 (-0.05,-1.46),(-0.02,-1.51),(-0.18,-0.34),(-0.16,-0.05)]
pc_bpso_pts = [(-0.20,0.94),(-0.16,0.66),(-0.14,0.54),(-0.17,-1.19),(-0.16,-1.38),(-0.12,-1.38),
 (-0.13,-0.68),(-0.05,2.26),(-0.03,1.85),(-0.01,1.79),(0.05,2.78),(0.02,1.94),(0.10,1.43),(0.13,1.18),
 (0.15,0.94),(0.16,0.41),(0.17,0.15),(0.22,-0.20),(0.25,-0.23),(0.12,-0.74),(0.17,-0.68),(0.16,-1.38),
 (0.13,-1.76),(0.10,-2.38),(0.03,-2.34),(0.01,-2.66),(0.01,-3.07),(-0.03,-2.27),(-0.06,-2.40),
 (-0.10,-0.59)]
pc_fname_pts = [(-0.10,3.23),(-0.04,2.74),(-0.02,2.86),(0.00,2.78),(0.09,3.04),(0.12,2.81),(0.15,3.19),
 (0.24,2.93),(-0.15,1.43),(-0.10,1.63),(-0.07,1.78),(0.00,1.84),(-0.17,0.45),(-0.20,-0.22),(-0.12,-0.15),
 (0.15,1.58),(0.16,1.78),(0.14,1.09),(0.17,0.45),(0.16,-0.22),(0.22,-0.15),(0.15,-1.65),(0.13,-1.57),
 (0.12,-1.20),(0.11,-2.22),(0.13,-2.40),(0.07,-2.10),(0.04,-2.62),(0.00,-2.55),(-0.04,-2.62),
 (-0.05,-2.40),(-0.12,-2.52),(-0.15,-1.87),(-0.07,-3.60),(0.06,-1.65)]
pc_ocl_pts = [(-0.21,0.05),(-0.17,1.28),(-0.15,1.36),(-0.17,-1.27),(-0.14,-1.12),(-0.14,-0.71),
 (-0.15,0.23),(-0.14,0.40),(-0.11,-1.24),(-0.11,-1.88),(-0.08,-1.94),(-0.07,-2.29),(-0.04,-2.03),
 (-0.04,2.27),(-0.02,1.92),(0.00,1.92),(0.01,2.24),(0.05,2.51),(0.05,2.33),(0.08,3.03),(0.13,1.48),
 (0.13,1.39),(0.12,0.99),(0.19,0.70),(0.22,0.20),(0.24,-0.63),(0.16,-1.24),(0.16,-1.59),(0.12,-2.23),
 (0.09,-2.00),(0.01,-2.17)]

# fitted regression lines (tau range; score at both ends)
fit_x_mtl = [-0.30, 0.65]
fit_x_it = [-0.21, 0.76]
fit_x_ip = [-0.25, 0.75]
fit_x_pc = [-0.20, 0.245]
fit_y_mtl = [[0.12, -0.59], [0.16, -0.60], [0.15, -0.58], [0.06, -0.47]]
fit_y_it = [[0.05, -0.69], [0.05, -0.71], [0.10, -0.57], [0.00, -0.81]]
fit_y_ip = [[0.07, -0.58], [0.03, -0.38], [0.15, -0.58], [0.06, -0.65]]
fit_y_pc = [[-0.27, 0.07], [-0.19, 0.00], [-0.37, 0.26], [-0.26, 0.02]]

# ============================ LAYOUT ============================
RED, TEAL = "#F8766D", "#00BFC4"
W, H = 955, 1460
col_l = [81, 312, 543, 785]
col_r = [245, 475, 708, 948]
row_t = [113, 403, 679, 954, 1230]
row_b = [281.7, 571.7, 848.3, 1123.5, 1399.3]
xlab_off = [57, 57, 57, 57, 54]

ylim_amyloid = [(-2.27, 2.91), (-4.39, 3.66), (-5.88, 3.97), (-2.96, 3.96)]
ystep_amyloid = [1, 2, 2, 2]
ylim_tau = [(-2.22, 1.96), (-3.36, 3.10), (-4.02, 3.69), (-2.63, 3.36)]
ystep_tau = [1, 1, 2, 1]
xlim_tau = [(-0.353, 0.699), (-0.267, 0.81), (-0.30, 0.798), (-0.227, 0.265)]

MS, MLW = 44, 1.05

fig = plt.figure(figsize=(W / 100, H / 100), dpi=100)


def make_ax(c, r):
    l, w = col_l[c], col_r[c] - col_l[c]
    t, b = row_t[r], row_b[r]
    return fig.add_axes([l / W, 1 - b / H, w / W, (b - t) / H])


def fmt_num(v):
    s = "%g" % v
    return s.replace("-", "\u2212")


def style(ax, ylim, ystep):
    ax.set_facecolor("#EBEBEB")
    for s in ax.spines.values():
        s.set_visible(False)
    ax.set_ylim(*ylim)
    lo = np.ceil(ylim[0] / ystep) * ystep
    yt = np.arange(lo, ylim[1] + 1e-9, ystep)
    ax.yaxis.set_major_locator(FixedLocator(yt))
    ax.set_yticklabels([fmt_num(v) for v in yt])
    ax.yaxis.set_minor_locator(MultipleLocator(ystep / 2))
    ax.grid(which="major", color="white", lw=1.5)
    ax.grid(which="minor", color="white", lw=0.75)
    ax.set_axisbelow(True)
    ax.tick_params(which="major", length=3.0, width=1.1, color="#333333",
                   labelsize=14.8, labelcolor="#4D4D4D", pad=5.0)
    ax.tick_params(which="minor", length=0)


def panel_title(c, r, val):
    fig.text((col_l[c] + col_r[c]) / 2 / W, 1 - (row_t[r] + 0.5) / H,
             "\u0394R\u00b2 = " + val, ha="center", va="baseline", fontsize=17)


def xlabel(c, r, text):
    fig.text((col_l[c] + col_r[c]) / 2 / W, 1 - (row_b[r] + xlab_off[r]) / H,
             text, ha="center", va="baseline", fontsize=18.5)


def cloud(lv_a, lv_b, dx, yy):
    xs, ys = [], []
    for lv in lv_a:
        xs += JIT_A
        ys += [lv] * len(JIT_A)
    for lv in lv_b:
        xs += JIT_B
        ys += [lv] * len(JIT_B)
    n = min(len(dx), len(yy))
    return np.array(xs + list(dx[:n])), np.array(ys + list(yy[:n]))


# ---------------- row A: amyloid box plots ----------------
clouds = [
    [(c3_neg_lv_a, c3_neg_lv_b, c3_neg_dx, c3_neg_y), (c3_pos_lv_a, c3_pos_lv_b, c3_pos_dx, c3_pos_y)],
    [(bpso_neg_lv_a, bpso_neg_lv_b, bpso_neg_dx, bpso_neg_y), (bpso_pos_lv_a, bpso_pos_lv_b, bpso_pos_dx, bpso_pos_y)],
    [(fname_neg_lv_a, fname_neg_lv_b, fname_neg_dx, fname_neg_y), (fname_pos_lv_a, fname_pos_lv_b, fname_pos_dx, fname_pos_y)],
    [(ocl_neg_lv_a, ocl_neg_lv_b, ocl_neg_dx, ocl_neg_y), (ocl_pos_lv_a, ocl_pos_lv_b, ocl_pos_dx, ocl_pos_y)],
]
boxes = [box_c3, box_bpso, box_fname, box_ocl]
colors = [RED, TEAL]

for c in range(4):
    ax = make_ax(c, 0)
    style(ax, ylim_amyloid[c], ystep_amyloid[c])
    ax.set_xlim(0.4, 2.6)
    ax.xaxis.set_major_locator(FixedLocator([1, 2]))
    ax.xaxis.set_minor_locator(NullLocator())
    ax.set_xticklabels(amyloid_levels)
    for g in range(2):
        xs, ys = cloud(*clouds[c][g])
        ax.scatter(xs + g + 1, ys, s=MS, facecolors="none",
                   edgecolors=colors[g], linewidths=MLW, zorder=2)
    stats = []
    for b in boxes[c]:
        stats.append(dict(whislo=b[0], q1=b[1], med=b[2], q3=b[3], whishi=b[4], fliers=[]))
    bp = ax.bxp(stats, positions=[1, 2], widths=0.75, patch_artist=True,
                showfliers=False, showcaps=False, manage_ticks=False,
                boxprops=dict(edgecolor="black", linewidth=1.5),
                whiskerprops=dict(color="black", linewidth=2.2),
                medianprops=dict(color="black", linewidth=4.8, solid_capstyle="butt"))
    for g, patch in enumerate(bp["boxes"]):
        patch.set_facecolor(colors[g])
        patch.set_zorder(3)
    for art in bp["whiskers"]:
        art.set_zorder(2.9)
    for art in bp["medians"]:
        art.set_zorder(3.5)
    panel_title(c, 0, dr2_amyloid[c])
    xlabel(c, 0, "Amyloid Status")

# ---------------- rows B: tau scatter plots ----------------
core_x_rows = [mtl_core_x, it_core_x, ip_core_x, pc_core_x]
core_y_cols = [c3_core_y, bpso_core_y, fname_core_y, ocl_core_y]
pts = [
    [mtl_c3_pts, mtl_bpso_pts, mtl_fname_pts, mtl_ocl_pts],
    [it_c3_pts, it_bpso_pts, it_fname_pts, it_ocl_pts],
    [ip_c3_pts, ip_bpso_pts, ip_fname_pts, ip_ocl_pts],
    [pc_c3_pts, pc_bpso_pts, pc_fname_pts, pc_ocl_pts],
]
fit_x = [fit_x_mtl, fit_x_it, fit_x_ip, fit_x_pc]
fit_y = [fit_y_mtl, fit_y_it, fit_y_ip, fit_y_pc]
dr2_rows = [dr2_mtl, dr2_it, dr2_ip, dr2_pc]

for r in range(4):
    for c in range(4):
        ax = make_ax(c, r + 1)
        style(ax, ylim_tau[c], ystep_tau[c])
        xl = xlim_tau[r]
        ax.set_xlim(*xl)
        if r < 3:
            cand = [-0.25, 0.0, 0.25, 0.5, 0.75]
            labs = {0.0: "0.00", 0.5: "0.50"}
            minor = 0.125
        else:
            cand = [-0.2, -0.1, 0.0, 0.1, 0.2]
            labs = {-0.2: "\u22120.2", 0.0: "0.0", 0.2: "0.2"}
            minor = 0.05
        xt = [v for v in cand if xl[0] <= v <= xl[1]]
        ax.xaxis.set_major_locator(FixedLocator(xt))
        ax.set_xticklabels([labs.get(v, "") for v in xt])
        ax.xaxis.set_minor_locator(MultipleLocator(minor))

        cx = np.array(core_x_rows[r])
        cy = np.array(core_y_cols[c])
        n = min(len(cx), len(cy))
        sp = np.array(pts[r][c])
        xs = np.concatenate([cx[:n], sp[:, 0]])
        ys = np.concatenate([cy[:n], sp[:, 1]])
        ax.scatter(xs, ys, s=MS, facecolors="none", edgecolors=TEAL,
                   linewidths=MLW, zorder=2)
        ax.plot(fit_x[r], fit_y[r][c], color="black", lw=3.6,
                solid_capstyle="butt", zorder=4)
        panel_title(c, r + 1, dr2_rows[r][c])
        xlabel(c, r + 1, tau_labels[r])

# ---------------- shared labels ----------------
for r in range(5):
    fig.text(24 / W, 1 - ((row_t[r] + row_b[r]) / 2) / H, "Initial Score", rotation=90,
             ha="center", va="center", fontsize=18.5)

fig.text(514.5 / W, 1 - 31 / H, "Adjusted for Demographics", ha="center",
         va="baseline", fontsize=20)
for c in range(4):
    fig.text((col_l[c] + col_r[c]) / 2 / W, 1 - 74 / H, tests[c], ha="center",
             va="baseline", fontsize=20)
fig.text(16 / W, 1 - 105 / H, "(A)", ha="left", va="baseline", fontsize=18)
fig.text(16 / W, 1 - 382 / H, "(B)", ha="left", va="baseline", fontsize=18)

fig.savefig("out.png", dpi=100, facecolor="white")
